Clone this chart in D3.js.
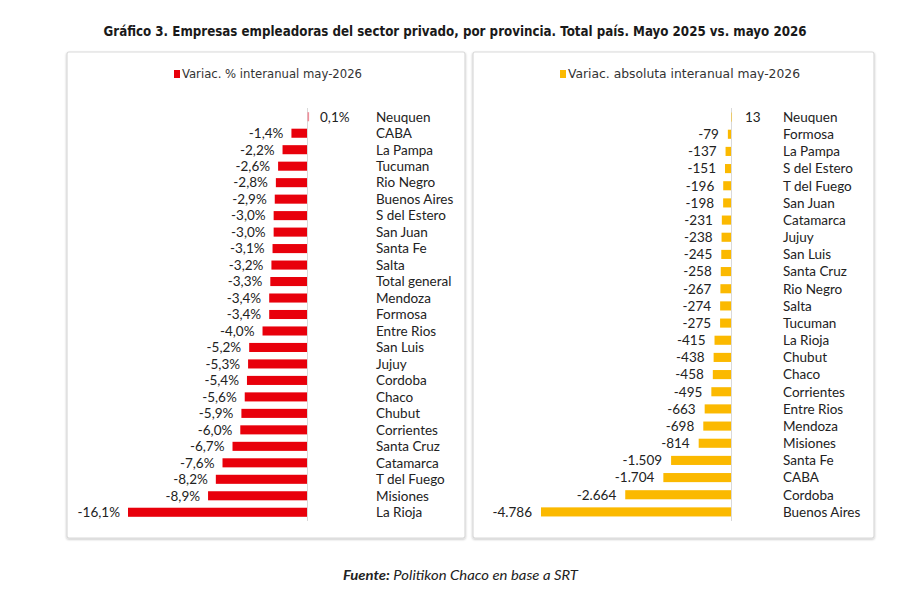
<!DOCTYPE html>
<html><head><meta charset="utf-8">
<script src="https://cdn.jsdelivr.net/npm/d3@7"></script>
<style>
html,body{margin:0;padding:0;background:#fff;}
svg{display:block;}
</style></head>
<body>
<svg id="chart" width="915" height="602"></svg>
<script>
const title = "Gráfico 3. Empresas empleadoras del sector privado, por provincia. Total país. Mayo 2025 vs. mayo 2026";
const legendPct = "Variac. % interanual may-2026";
const legendAbs = "Variac. absoluta interanual may-2026";
const sourceBold = "Fuente:";
const sourceText = " Politikon Chaco en base a SRT";

const pctCategories = ["Neuquen","CABA","La Pampa","Tucuman","Rio Negro","Buenos Aires","S del Estero","San Juan","Santa Fe","Salta","Total general","Mendoza","Formosa","Entre Rios","San Luis","Jujuy","Cordoba","Chaco","Chubut","Corrientes","Santa Cruz","Catamarca","T del Fuego","Misiones","La Rioja"];
const pctValues = [0.1,-1.4,-2.2,-2.6,-2.8,-2.9,-3.0,-3.0,-3.1,-3.2,-3.3,-3.4,-3.4,-4.0,-5.2,-5.3,-5.4,-5.6,-5.9,-6.0,-6.7,-7.6,-8.2,-8.9,-16.1];

const absCategories = ["Neuquen","Formosa","La Pampa","S del Estero","T del Fuego","San Juan","Catamarca","Jujuy","San Luis","Santa Cruz","Rio Negro","Salta","Tucuman","La Rioja","Chubut","Chaco","Corrientes","Entre Rios","Mendoza","Misiones","Santa Fe","CABA","Cordoba","Buenos Aires"];
const absValues = [13,-79,-137,-151,-196,-198,-231,-238,-245,-258,-267,-274,-275,-415,-438,-458,-495,-663,-698,-814,-1509,-1704,-2664,-4786];

const svg = d3.select("#chart");
const labelFont = "Lato, 'Open Sans', sans-serif";
const narrowFont = "'Liberation Sans Narrow', 'DejaVu Sans Condensed', Lato, sans-serif";

// title
svg.append("text").attr("x",455).attr("y",36).attr("text-anchor","middle")
  .attr("font-family",narrowFont).attr("font-weight","bold").attr("font-size",14.5)
  .attr("fill","#1a1a1a").attr("textLength",703).attr("lengthAdjust","spacingAndGlyphs")
  .text(title);

// panels
const defs = svg.append("defs");
const f = defs.append("filter").attr("id","sh").attr("x","-5%").attr("y","-5%").attr("width","110%").attr("height","110%");
f.append("feGaussianBlur").attr("in","SourceAlpha").attr("stdDeviation",1.2);
f.append("feOffset").attr("dx",0).attr("dy",0.5).attr("result","b");
f.append("feComponentTransfer").append("feFuncA").attr("type","linear").attr("slope",0.25);
const fm = f.append("feMerge"); fm.append("feMergeNode"); fm.append("feMergeNode").attr("in","SourceGraphic");

[[67,465],[473,874]].forEach(([x0,x1])=>{
  svg.append("rect").attr("x",x0).attr("y",52).attr("width",x1-x0).attr("height",486)
    .attr("rx",2).attr("fill","#fff").attr("stroke","#d9d9d9").attr("stroke-width",1.2)
    .attr("filter","url(#sh)");
});

function drawPanel(opts){
  const {cats, vals, zeroX, minX, minVal, color, legendText, legendX, legendW, catX, fmt, gap} = opts;
  const g = svg.append("g");
  const x = d3.scaleLinear().domain([minVal,0]).range([minX,zeroX]);
  const y = d3.scaleBand().domain(cats).range([108.5, 520.5]).paddingInner(opts.padIn).paddingOuter(opts.padIn/2);

  // legend
  g.append("rect").attr("x",legendX).attr("y",70).attr("width",6).attr("height",8).attr("fill",color);
  g.append("text").attr("x",legendX+8).attr("y",78).attr("font-family",narrowFont).attr("font-size",12.5)
    .attr("fill","#333").attr("textLength",legendW).attr("lengthAdjust","spacingAndGlyphs").text(legendText);

  // zero axis
  g.append("line").attr("x1",zeroX+0.5).attr("x2",zeroX+0.5).attr("y1",108).attr("y2",521)
    .attr("stroke","#d9d9d9").attr("stroke-width",1);

  // bars
  g.selectAll("rect.bar").data(vals).join("rect").attr("class","bar")
    .attr("x",d=> d>0 ? x(0)+0.5 : x(d)).attr("width",d=> d>0 ? Math.max(x(d)-x(0), opts.posMin) : x(0)-x(d))
    .attr("y",(d,i)=>y(cats[i])).attr("height",y.bandwidth())
    .attr("fill",d=> d>0 ? opts.posColor : color);

  // value labels
  g.selectAll("text.val").data(vals).join("text").attr("class","val")
    .attr("x",d=> d>0 ? opts.posLabelX : x(d)-gap)
    .attr("y",(d,i)=>y(cats[i])+y.bandwidth()/2+4.8)
    .attr("text-anchor",d=> d>0 ? "start":"end")
    .attr("font-family",labelFont).attr("font-size",13.5).attr("fill","#222")
    .text(fmt);

  // category labels
  g.selectAll("text.cat").data(cats).join("text").attr("class","cat")
    .attr("x",catX).attr("y",d=>y(d)+y.bandwidth()/2+4.8)
    .attr("font-family",labelFont).attr("font-size",13.5).attr("fill","#222")
    .text(d=>d);
}

const esPct = d => d3.format(".1f")(d).replace(".",",").replace("−","-") + "%";
const esInt = d => d3.format(",")(d).replace(/,/g,".").replace("−","-");

drawPanel({cats:pctCategories, vals:pctValues, zeroX:307, minX:128, minVal:-16.1,
  color:"#e8000b", posColor:"#ef8f9b", posMin:1.6, legendText:legendPct, legendX:174, legendW:180,
  catX:376, fmt:esPct, posLabelX:320, gap:8, padIn:0.45});

drawPanel({cats:absCategories, vals:absValues, zeroX:731, minX:541, minVal:-4786,
  color:"#fbb900", posColor:"#fbb900", posMin:0, legendText:legendAbs, legendX:560, legendW:232,
  catX:783, fmt:esInt, posLabelX:745, gap:9, padIn:0.47});

// source
const src = svg.append("text").attr("x",343).attr("y",580).attr("font-family",labelFont)
  .attr("font-size",14).attr("font-style","italic").attr("fill","#222")
  .attr("textLength",235).attr("lengthAdjust","spacingAndGlyphs");
src.append("tspan").attr("font-weight","bold").text(sourceBold);
src.append("tspan").text(sourceText);
</script>
</body></html>
